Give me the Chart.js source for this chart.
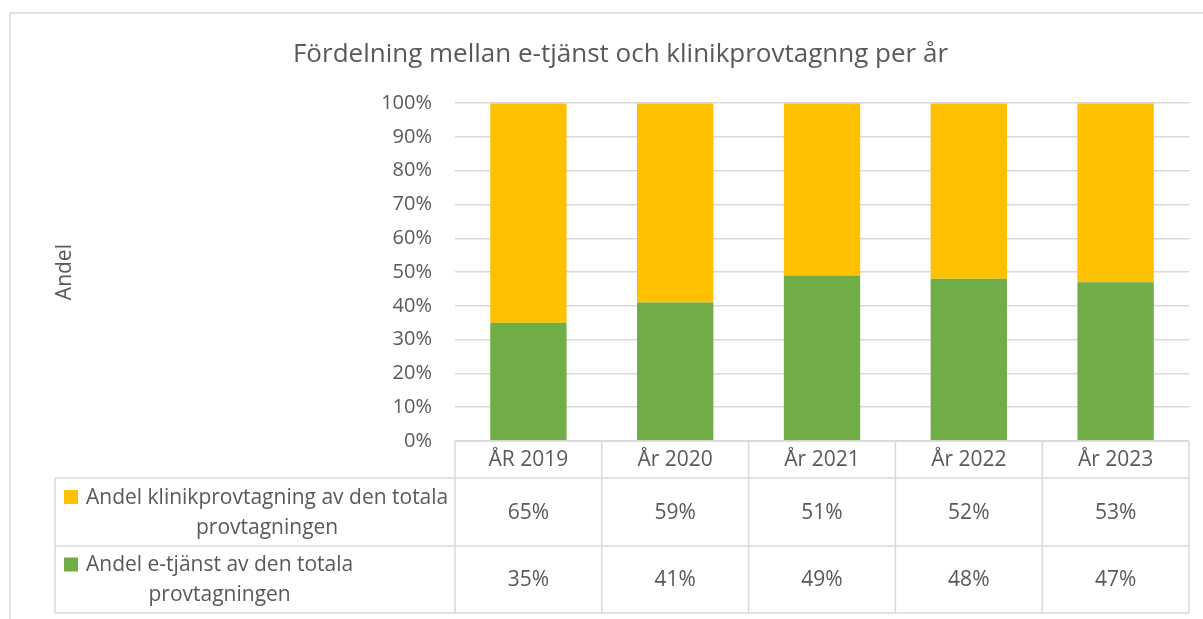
<!DOCTYPE html>
<html>
<head>
<meta charset="utf-8">
<script src="https://cdn.jsdelivr.net/npm/chart.js@4.4.1/dist/chart.umd.min.js"></script>
<style>
    html, body { margin: 0; padding: 0; background: #fff; overflow: hidden; }
    #wrap { position: relative; width: 1203px; height: 619px; }
</style>
</head>
<body>
<div id="wrap"><canvas id="chart" width="1203" height="619"></canvas></div>
<script>
// Categories and series
const years = ['ÅR 2019', 'År 2020', 'År 2021', 'År 2022', 'År 2023'];
const eTjanst = [35, 41, 49, 48, 47];
const klinik = [65, 59, 51, 52, 53];
const klinikLabel = ['Andel klinikprovtagning av den totala', 'provtagningen'];
const eTjanstLabel = ['Andel e-tjänst av den totala', 'provtagningen'];

const TEXT = '#595959';
const GRID = '#d9d9d9';
const GREEN = '#70AD47';
const YELLOW = '#FFC000';
const FONT = '"Open Sans", "Liberation Sans", sans-serif';

// Chart frame: only top and left edges fall inside the picture
const frame = {
    id: 'frame',
    beforeDraw(chart) {
        const ctx = chart.ctx;
        ctx.save();
        ctx.fillStyle = '#fff';
        ctx.fillRect(0, 0, chart.width, chart.height);
        ctx.strokeStyle = GRID;
        ctx.lineWidth = 1.5;
        ctx.beginPath();
        ctx.moveTo(10, chart.height + 5);
        ctx.lineTo(10, 13);
        ctx.lineTo(chart.width + 5, 13);
        ctx.stroke();
        ctx.restore();
    }
};

// Excel style data table under the plot, columns follow the x scale
const dataTable = {
    id: 'dataTable',
    afterDraw(chart) {
        const ctx = chart.ctx;
        const x = chart.scales.x;
        const area = chart.chartArea;
        const half = (x.getPixelForValue(1) - x.getPixelForValue(0)) / 2;
        const tableLeft = 55;
        const top = area.bottom;
        const headBottom = top + 37;
        const rowBottoms = [headBottom + 68, headBottom + 135];

        ctx.save();
        ctx.strokeStyle = GRID;
        ctx.lineWidth = 1.5;
        ctx.beginPath();
        // horizontal lines
        ctx.moveTo(area.left, top); ctx.lineTo(area.right, top);
        ctx.moveTo(tableLeft, headBottom); ctx.lineTo(area.right, headBottom);
        rowBottoms.forEach(y => { ctx.moveTo(tableLeft, y); ctx.lineTo(area.right, y); });
        // vertical lines
        ctx.moveTo(tableLeft, headBottom); ctx.lineTo(tableLeft, rowBottoms[1]);
        for (let i = 0; i <= years.length; i++) {
            const px = x.getPixelForValue(i) - half;
            ctx.moveTo(px, top); ctx.lineTo(px, rowBottoms[1]);
        }
        ctx.stroke();

        ctx.fillStyle = TEXT;
        ctx.font = '21px ' + FONT;
        ctx.textAlign = 'center';
        ctx.textBaseline = 'middle';
        years.forEach((label, i) => {
            const cx = x.getPixelForValue(i);
            ctx.fillText(label, cx, (top + headBottom) / 2 + 1);
        });

        const rows = [
            { lines: klinikLabel, color: YELLOW, values: klinik },
            { lines: eTjanstLabel, color: GREEN, values: eTjanst }
        ];
        let rowTop = headBottom;
        rows.forEach((row, r) => {
            const rowBottom = rowBottoms[r];
            const mid = (rowTop + rowBottom) / 2;
            // label block: key square, then lines centred within the block
            const blockLeft = 86;
            const blockWidth = Math.max(...row.lines.map(l => ctx.measureText(l).width));
            const lineYs = [mid - 15, mid + 15];
            ctx.fillStyle = row.color;
            ctx.fillRect(64, lineYs[0] - 7, 14, 14);
            ctx.fillStyle = TEXT;
            row.lines.forEach((l, k) => {
                ctx.fillText(l, blockLeft + blockWidth / 2, lineYs[k] + 1);
            });
            row.values.forEach((v, i) => {
                ctx.fillText(v + '%', x.getPixelForValue(i), mid + 1);
            });
            rowTop = rowBottom;
        });
        ctx.restore();
    }
};

new Chart(document.getElementById('chart'), {
    type: 'bar',
    data: {
        labels: years,
        datasets: [
            {
                label: eTjanstLabel.join(' '),
                data: eTjanst,
                backgroundColor: GREEN,
                barPercentage: 0.52,
                categoryPercentage: 1
            },
            {
                label: klinikLabel.join(' '),
                data: klinik,
                backgroundColor: YELLOW,
                barPercentage: 0.52,
                categoryPercentage: 1
            }
        ]
    },
    options: {
        responsive: false,
        animation: false,
        layout: { padding: { left: 52, right: 14, top: 0, bottom: 178 } },
        plugins: {
            legend: { display: false },
            tooltip: { enabled: false },
            title: {
                display: true,
                text: 'Fördelning mellan e-tjänst och klinikprovtagnng per år',
                color: TEXT,
                font: { family: FONT, size: 26, weight: 'normal' },
                padding: { top: 39, bottom: 33 }
            }
        },
        scales: {
            x: {
                stacked: true,
                display: false
            },
            y: {
                stacked: true,
                min: 0,
                max: 100,
                afterFit(scale) { scale.width = 403; },
                ticks: {
                    stepSize: 10,
                    padding: 23,
                    color: TEXT,
                    font: { family: FONT, size: 20 },
                    callback: v => v + '%'
                },
                grid: { color: GRID, lineWidth: 1.5, drawTicks: false },
                border: { display: false },
                title: {
                    display: true,
                    text: 'Andel',
                    color: TEXT,
                    font: { family: FONT, size: 21 },
                    padding: 0
                }
            }
        }
    },
    plugins: [frame, dataTable]
});
</script>
</body>
</html>
